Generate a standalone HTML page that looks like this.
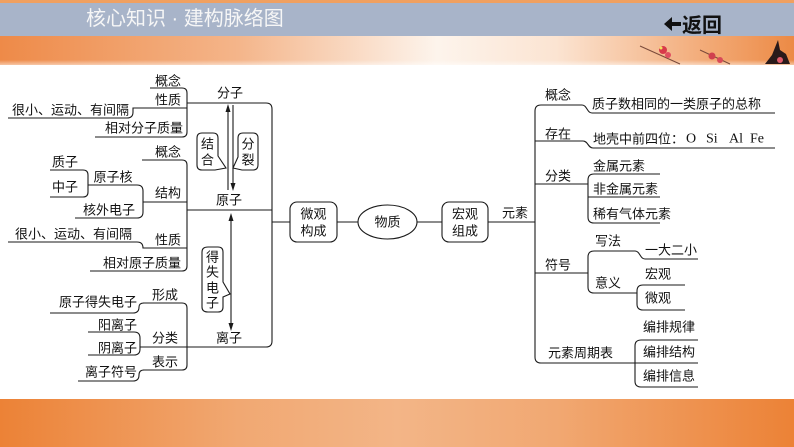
<!DOCTYPE html>
<html><head><meta charset="utf-8">
<style>
html,body{margin:0;padding:0;background:#fff;}
svg{display:block;}
text{font-family:"Liberation Sans","Noto Sans CJK SC",sans-serif;font-size:13px;fill:#111;}
</style></head>
<body>
<svg width="794" height="447" viewBox="0 0 794 447" xmlns="http://www.w3.org/2000/svg">
<defs>
<linearGradient id="hb" x1="0" x2="1" y1="0" y2="0">
<stop offset="0" stop-color="#ee8a48"/>
<stop offset="0.3" stop-color="#f4b58a"/>
<stop offset="0.55" stop-color="#fdf4ec"/>
<stop offset="0.7" stop-color="#fbe4d2"/>
<stop offset="0.9" stop-color="#f2a772"/>
<stop offset="1" stop-color="#ec8a45"/>
</linearGradient>
<linearGradient id="bb" x1="0" x2="1" y1="0" y2="0">
<stop offset="0" stop-color="#ec8236"/>
<stop offset="0.3" stop-color="#f1a872"/>
<stop offset="0.5" stop-color="#f3b587"/>
<stop offset="0.7" stop-color="#f1a872"/>
<stop offset="1" stop-color="#ec8236"/>
</linearGradient>
<linearGradient id="fade" x1="0" x2="0" y1="0" y2="1">
<stop offset="0" stop-color="#fff" stop-opacity="0"/>
<stop offset="1" stop-color="#fff" stop-opacity="0.5"/>
</linearGradient>
</defs>

<!-- header -->
<rect x="0" y="0" width="794" height="3" fill="#f0a060"/>
<rect x="0" y="3" width="794" height="33" fill="#a8b4c9"/>
<rect x="0" y="36" width="794" height="29" fill="url(#hb)"/>
<rect x="0" y="60" width="794" height="5" fill="url(#fade)"/>
<text x="86" y="25" style="font-size:20px;fill:#f6f6f6;">核心知识 · 建构脉络图</text>
<path d="M664,24 L672,17 L672,22 L681,22 L681,26 L672,26 L672,31 Z" fill="#111"/>
<text x="682" y="32" style="font-size:20px;font-weight:bold;fill:#111;">返回</text>
<!-- flowers -->
<line x1="640" y1="46" x2="680" y2="64" stroke="#7a4a3a" stroke-width="1"/>
<circle cx="663" cy="50" r="4" fill="#d83a4a"/>
<circle cx="668" cy="55" r="3" fill="#e05060"/>
<circle cx="661" cy="48" r="1.5" fill="#f3e060"/>
<line x1="700" y1="50" x2="730" y2="64" stroke="#7a4a3a" stroke-width="1"/>
<circle cx="712" cy="56" r="3.5" fill="#d0404e"/>
<circle cx="720" cy="60" r="3" fill="#d84a58"/>
<path d="M765,64 L772,55 L776,45 L778,40 L780,50 L786,54 L790,64 Z" fill="#2a1a1a"/>
<circle cx="780" cy="60" r="3" fill="#e05a6a"/>

<!-- bottom band -->
<rect x="0" y="399" width="794" height="48" fill="url(#bb)"/>

<g fill="none" stroke="#1a1a1a" stroke-width="1.1">
<!-- 分子 property group -->
<path d="M150,88 H182 Q187,88 187,93 V132 Q187,137 182,137 H95"/>
<path d="M8,118 H127 Q133,118 133,112 V108 H187"/>
<!-- main left bracket -->
<path d="M187,103 H266 Q272,103 272,109 V341 Q272,347 266,347 H140"/>
<path d="M187,210 H272"/>
<path d="M272,222 H290"/>
<!-- atom group -->
<path d="M142,160 H182 Q187,160 187,165 V266 Q187,271 182,271 H90"/>
<path d="M143,202 H187"/>
<path d="M88,185 H137 Q143,185 143,191 V212 Q143,218 137,218 H75"/>
<path d="M50,170 H83 Q88,170 88,175 V192 Q88,197 83,197 H50"/>
<path d="M8,242 H137 Q143,242 143,248 H187"/>
<!-- ion group -->
<path d="M143,303 H182 Q187,303 187,308 V365 Q187,370 182,370 H143"/>
<path d="M50,313 H133 Q139,313 139,307 Q139,303 144,303"/>
<path d="M88,332 H134 Q140,332 140,338 V349 Q140,355 134,355 H88"/>
<path d="M78,381 H133 Q139,381 139,375 Q139,370 144,370"/>
<!-- arrows -->
<path d="M228,190 V109"/>
<path d="M233,105 V186"/>
<path d="M231,218 V326"/>
<!-- callouts -->
<path d="M202,133 H213 Q218,133 218,138 V156 L226,168 L215,170 H202 Q197,170 197,165 V138 Q197,133 202,133 Z"/>
<path d="M243,133 H253 Q258,133 258,138 V165 Q258,170 253,170 H242 L233,168 L238,157 V138 Q238,133 243,133 Z"/>
<path d="M208,247 H218 Q223,247 223,252 V282 L230,294 L223,297 V307 Q223,312 218,312 H208 Q202,312 202,307 V252 Q202,247 208,247 Z"/>
<!-- center -->
<rect x="290" y="202" width="47" height="40" rx="7"/>
<path d="M337,222 H358"/>
<ellipse cx="387.5" cy="222" rx="29.5" ry="17"/>
<path d="M417,222 H442"/>
<rect x="442" y="202" width="46" height="40" rx="7"/>
<path d="M488,222 H535"/>
<!-- right -->
<path d="M535,111 Q535,105 541,105 H582 C587,105 587,113 592,113 H775"/>
<path d="M535,111 V357 Q535,363 541,363 H698"/>
<path d="M535,141 H583 C588,141 588,148 593,148 H775"/>
<path d="M535,184 H588"/>
<path d="M660,174 H594 Q588,174 588,180 V217 Q588,223 594,223 H660"/>
<path d="M588,197 H660"/>
<path d="M535,273 H588"/>
<path d="M635,251 H594 Q588,251 588,257 V287 Q588,293 594,293 H637"/>
<path d="M635,251 C640,251 640,259 645,259 H698"/>
<path d="M685,285 H643 Q637,285 637,291 V304 Q637,310 643,310 H685"/>
<path d="M698,340 H641 Q635,340 635,346 V381 Q635,387 641,387 H698"/>
</g>
<g fill="#1a1a1a">
<polygon points="228,104 225.5,112 230.5,112"/>
<polygon points="233,191 230.5,183 235.5,183"/>
<polygon points="231,213 228.5,221 233.5,221"/>
<polygon points="231,331 228.5,323 233.5,323"/>
</g>

<g dominant-baseline="central">
<!-- 分子 group -->
<text x="168" y="81" text-anchor="middle">概念</text>
<text x="168" y="100" text-anchor="middle">性质</text>
<text x="12" y="110">很小、运动、有间隔</text>
<text x="183" y="128" text-anchor="end">相对分子质量</text>
<!-- atom group -->
<text x="168" y="152" text-anchor="middle">概念</text>
<text x="65" y="162" text-anchor="middle">质子</text>
<text x="65" y="187" text-anchor="middle">中子</text>
<text x="113" y="177" text-anchor="middle">原子核</text>
<text x="168" y="193" text-anchor="middle">结构</text>
<text x="135" y="210" text-anchor="end">核外电子</text>
<text x="15" y="234">很小、运动、有间隔</text>
<text x="168" y="240" text-anchor="middle">性质</text>
<text x="181" y="263" text-anchor="end">相对原子质量</text>
<!-- ion group -->
<text x="165" y="295" text-anchor="middle">形成</text>
<text x="137" y="302" text-anchor="end">原子得失电子</text>
<text x="137" y="325" text-anchor="end">阳离子</text>
<text x="165" y="338" text-anchor="middle">分类</text>
<text x="137" y="348" text-anchor="end">阴离子</text>
<text x="165" y="362" text-anchor="middle">表示</text>
<text x="137" y="372" text-anchor="end">离子符号</text>
<!-- middle -->
<text x="230" y="93" text-anchor="middle">分子</text>
<text x="229" y="200" text-anchor="middle">原子</text>
<text x="229" y="338" text-anchor="middle">离子</text>
<text x="207.5" y="144" text-anchor="middle">结</text>
<text x="207.5" y="160" text-anchor="middle">合</text>
<text x="248" y="144" text-anchor="middle">分</text>
<text x="248" y="160" text-anchor="middle">裂</text>
<text x="212.5" y="257" text-anchor="middle">得</text>
<text x="212.5" y="272" text-anchor="middle">失</text>
<text x="212.5" y="288" text-anchor="middle">电</text>
<text x="212.5" y="303" text-anchor="middle">子</text>
<text x="313.5" y="214" text-anchor="middle">微观</text>
<text x="313.5" y="231" text-anchor="middle">构成</text>
<text x="387.5" y="222" text-anchor="middle">物质</text>
<text x="465" y="214" text-anchor="middle">宏观</text>
<text x="465" y="231" text-anchor="middle">组成</text>
<text x="515" y="213" text-anchor="middle">元素</text>
<!-- right -->
<text x="558" y="95" text-anchor="middle">概念</text>
<text x="592" y="104">质子数相同的一类原子的总称</text>
<text x="558" y="134" text-anchor="middle">存在</text>
<text x="593" y="139">地壳中前四位：</text>
<text x="686" y="139" style="font-family:'Liberation Serif',serif;font-size:14px;">O</text>
<text x="706" y="139" style="font-family:'Liberation Serif',serif;font-size:14px;">Si</text>
<text x="729" y="139" style="font-family:'Liberation Serif',serif;font-size:14px;">Al</text>
<text x="750" y="139" style="font-family:'Liberation Serif',serif;font-size:14px;">Fe</text>
<text x="593" y="166">金属元素</text>
<text x="558" y="176" text-anchor="middle">分类</text>
<text x="593" y="189">非金属元素</text>
<text x="593" y="214">稀有气体元素</text>
<text x="608" y="241" text-anchor="middle">写法</text>
<text x="645" y="250">一大二小</text>
<text x="558" y="265" text-anchor="middle">符号</text>
<text x="645" y="274">宏观</text>
<text x="608" y="283" text-anchor="middle">意义</text>
<text x="645" y="298">微观</text>
<text x="643" y="327">编排规律</text>
<text x="548" y="353">元素周期表</text>
<text x="643" y="352">编排结构</text>
<text x="643" y="376">编排信息</text>
</g>
</svg>
</body></html>
